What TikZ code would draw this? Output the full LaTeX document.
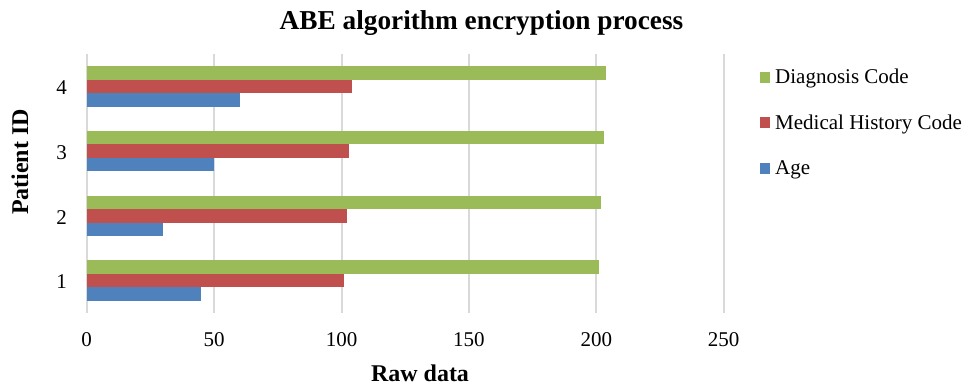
\documentclass[tikz,border=0pt]{standalone}
\usepackage{fontspec}
\setmainfont{Liberation Serif}
\definecolor{gridgray}{HTML}{D9D9D9}
\definecolor{dgreen}{HTML}{9BBB59}
\definecolor{mred}{HTML}{C0504D}
\definecolor{ablue}{HTML}{4F81BD}
\begin{document}
\begin{tikzpicture}[x=1pt,y=-1pt,
  gridline/.style={draw=gridgray,line width=2pt},
  ticklabel/.style={inner sep=0pt,font=\fontsize{21}{25}\selectfont},
  legtext/.style={inner sep=0pt,anchor=base west,font=\fontsize{21}{25}\selectfont},
  axtitle/.style={inner sep=0pt,font=\fontsize{24}{28}\selectfont\bfseries},
  legbox/.style={inner sep=0pt,minimum width=10.7pt,minimum height=11pt,anchor=south west}]
\useasboundingbox (0,0) rectangle (967,385);
% title
\node[inner sep=0pt,anchor=base,font=\fontsize{27.3}{31}\selectfont\bfseries] (title) at (481.5,29.3) {ABE algorithm encryption process};
% grid and x ticks
\foreach \v in {0,50,100,150,200,250} {
  \draw[gridline] ({86.7+2.548*\v},54) -- ({86.7+2.548*\v},313);
  \node[ticklabel,anchor=base] (x\v) at ({86.7+2.548*\v},346) {\v};
}
% bars
\foreach \c/\a/\m/\d in {1/45/101/201,2/30/102/202,3/50/103/203,4/60/104/204} {
  \pgfmathsetmacro\yc{54+64.75*(4-\c)+32.375}
  \fill[dgreen] (86.7,{\yc-20.35}) rectangle ({86.7+2.548*\d},{\yc-6.8});
  \fill[mred] (86.7,{\yc-6.8}) rectangle ({86.7+2.548*\m},{\yc+6.75});
  \fill[ablue] (86.7,{\yc+6.75}) rectangle ({86.7+2.548*\a},{\yc+20.35});
  \node[ticklabel,anchor=base east] (y\c) at (67,{\yc+8.3}) {\c};
}
% axis titles
\node[axtitle,anchor=base] (xtitle) at (420,381) {Raw data};
\node[axtitle,anchor=base,rotate=90] (ytitle) at (28,162) {Patient ID};
% legend
\node[legbox,fill=dgreen] (lg1) at (759.3,83.3) {};
\node[legtext] (lt1) at (775,84) {Diagnosis Code};
\node[legbox,fill=mred] (lg2) at (759.3,128.6) {};
\node[legtext] (lt2) at (775,129.3) {Medical History Code};
\node[legbox,fill=ablue] (lg3) at (759.3,173.9) {};
\node[legtext] (lt3) at (775,174.6) {Age};
\end{tikzpicture}
\end{document}
